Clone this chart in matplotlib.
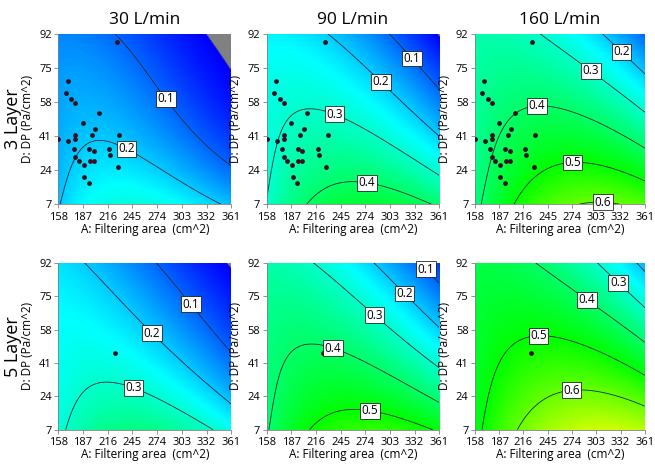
import numpy as np
import matplotlib
matplotlib.use('Agg')
import matplotlib.pyplot as plt
from matplotlib.colors import LinearSegmentedColormap

plt.rcParams['font.family'] = ['Open Sans', 'DejaVu Sans']

flows = ['30 L/min', '90 L/min', '160 L/min']
layers = ['3 Layer', '5 Layer']
x_ticks = [158, 187, 216, 245, 274, 303, 332, 361]
y_ticks = [7, 24, 41, 58, 75, 92]

# design points (filtering area, DP)
pts3_area = [226.6, 169.0, 166.6, 173.3, 178.0, 205.4, 186.6, 201.5, 158.0, 178.0,
             178.0, 169.8, 197.2, 229.7, 176.0, 194.5, 199.6, 218.0, 219.2, 178.0,
             181.9, 195.2, 199.6, 187.8, 228.2, 188.6, 193.7]
pts3_dp = [87.8, 68.6, 62.5, 59.7, 57.6, 52.6, 47.7, 44.7, 39.7, 41.5,
           39.7, 38.5, 41.5, 41.5, 34.5, 34.5, 33.5, 34.5, 31.4, 30.4,
           28.4, 28.4, 28.4, 26.4, 25.6, 20.6, 17.5]
pts5_area = [224.5]
pts5_dp = [46.3]

# response readings (area, DP, response) for each panel: contour lines and corner shades
l3_30 = [(160.7, 7, .2), (171.7, 26.1, .2), (187.4, 34.4, .2), (207, 38, .2), (222.7, 37.7, .2),
         (246.2, 33.6, .2), (277.6, 24.4, .2), (308.9, 16.1, .2), (350.1, 7, .2),
         (226.6, 92, .1), (254, 75.9, .1), (281.5, 61, .1), (308.9, 47.7, .1), (340.3, 32.7, .1),
         (359.9, 26.1, .1), (330.5, 92, 0), (344.2, 84.2, 0), (359.9, 75.9, 0),
         (158, 92, .13), (158, 7, .195)]
l3_90 = [(210.9, 7, .4), (220.7, 12.8, .4), (240.3, 17, .4), (263.8, 18.6, .4), (287.4, 17.8, .4),
         (314.8, 13.6, .4), (342.2, 8.7, .4), (354, 7, .4),
         (158, 11.2, .3), (165.8, 31.1, .3), (177.6, 42.7, .3), (193.3, 51, .3), (216.8, 53.8, .3),
         (236.4, 53.5, .3), (267.8, 48.5, .3), (299.1, 39.4, .3), (330.5, 28.6, .3), (359.9, 21.1, .3),
         (236.4, 92, .2), (259.9, 80.9, .2), (287.4, 68.4, .2), (314.8, 57.6, .2), (338.3, 48.5, .2),
         (359.9, 41, .2), (299.1, 92, .1), (322.6, 82.5, .1), (346.2, 72.6, .1), (359.9, 66.8, .1),
         (158, 92, .24), (158, 7, .305)]
l3_160 = [(295, 7.5, .6), (311, 8.2, .6), (330, 7.5, .6),
          (209.7, 7, .5), (223.7, 19.5, .5), (243.6, 26.1, .5), (271.4, 28.6, .5), (295.3, 27.8, .5),
          (327.2, 23.6, .5), (359, 18.6, .5),
          (168, 7, .4), (175.9, 22.8, .4), (187.9, 39.4, .4), (203.8, 51, .4), (223.7, 56, .4),
          (243.6, 56.8, .4), (271.4, 54.3, .4), (303.3, 48.5, .4), (335.1, 41, .4), (361, 35.2, .4),
          (239.6, 92, .3), (263.5, 84.2, .3), (291.3, 74.2, .3), (319.2, 65.1, .3), (343.1, 57.6, .3),
          (361, 52.7, .3), (307.3, 92, .2), (331.1, 84.2, .2), (351, 76.7, .2), (361, 73.4, .2),
          (158, 92, .33), (158, 7, .39)]
l5_30 = [(169.8, 7, .3), (179.6, 19, .3), (195.2, 27.4, .3), (214.8, 30.7, .3), (230.5, 30.4, .3),
         (254, 27.4, .3), (285.4, 20.7, .3), (316.8, 12.3, .3), (340.3, 7, .3),
         (195.2, 92, .2), (218.8, 79.1, .2), (246.2, 65.8, .2), (269.7, 57.4, .2), (297.2, 45.7, .2),
         (324.6, 34, .2), (359.9, 20.7, .2),
         (269.7, 92, .1), (293.2, 79.1, .1), (316.8, 69.1, .1), (340.3, 55.8, .1), (359.9, 45.7, .1),
         (361, 92, 0), (158, 92, .22), (158, 7, .29)]
l5_90 = [(215.1, 7, .5), (228.9, 13.2, .5), (248.6, 16.5, .5), (268.3, 18.2, .5), (292, 17.4, .5),
         (319.5, 13.2, .5), (347.1, 8.2, .5), (355, 7, .5),
         (160, 7, .4), (167.9, 25.7, .4), (181.6, 42.4, .4), (197.4, 49.1, .4), (217.1, 50.8, .4),
         (232.9, 49.9, .4), (260.4, 44.9, .4), (292, 37.4, .4), (323.5, 29, .4), (361, 19, .4),
         (221, 92, .3), (244.7, 81.6, .3), (272.3, 69.1, .3), (299.8, 59.1, .3), (327.4, 49.1, .3),
         (361, 39.1, .3), (280.1, 92, .2), (307.7, 81.6, .2), (331.4, 70.8, .2), (361, 60.8, .2),
         (339.2, 92, .1), (355, 84.2, .1), (361, 81.6, .1), (158, 92, .33), (158, 7, .395)]
l5_160 = [(211.7, 7, .6), (223.7, 15.7, .6), (243.6, 24, .6), (271.4, 28.2, .6), (295.3, 28.2, .6),
          (327.2, 24, .6), (361, 19, .6),
          (169.9, 7, .5), (177.9, 25.7, .5), (191.8, 42.4, .5), (211.7, 52.4, .5), (235.6, 56.1, .5),
          (263.5, 54.9, .5), (295.3, 49.1, .5), (327.2, 42.4, .5), (361, 34.9, .5),
          (235.6, 92, .4), (263.5, 82.5, .4), (291.3, 72.5, .4), (319.2, 63.3, .4), (343.1, 55.8, .4),
          (361, 50.8, .4), (299.3, 92, .3), (323.2, 84.2, .3), (347.1, 75.8, .3), (361, 70, .3),
          (351, 92, .2), (361, 88.3, .2), (158, 92, .43), (158, 7, .49)]

readings = [[l3_30, l3_90, l3_160], [l5_30, l5_90, l5_160]]
levels = [[[0.1, 0.2], [0.1, 0.2, 0.3, 0.4], [0.2, 0.3, 0.4, 0.5, 0.6]],
          [[0.1, 0.2, 0.3], [0.1, 0.2, 0.3, 0.4, 0.5], [0.2, 0.3, 0.4, 0.5, 0.6]]]
# contour labels: level and rough place
labels = [[[(0.1, 286.6, 60.5), (0.2, 242.3, 38)],
           [(0.1, 328.5, 79.5), (0.2, 293.2, 68.4), (0.3, 240.3, 54.3), (0.4, 277.6, 22)],
           [(0.2, 334.3, 83.4), (0.3, 299.3, 75.1), (0.4, 231.6, 60.5), (0.5, 274.6, 32.4),
            (0.6, 311.2, 9)]],
          [[(0.1, 310.9, 70), (0.2, 270.9, 57.3), (0.3, 248.9, 31.4)],
           [(0.1, 344, 88.3), (0.2, 319.5, 76.1), (0.3, 288, 66.6), (0.4, 238.8, 52.4),
            (0.5, 281.3, 20.7)],
           [(0.3, 330.3, 82.5), (0.4, 295.3, 75), (0.5, 233.6, 58.8), (0.6, 272.2, 31.4)]]]


def terms(a, d):
    a = (np.asarray(a) - 259.5) / 101.5
    d = (np.asarray(d) - 49.5) / 42.5
    return [np.ones_like(a), a, d, a * d, a * a, d * d,
            a ** 3, a * a * d, a * d * d, d ** 3]


def fit_surface(pts):  # cubic response surface through the read points
    p = np.array(pts, dtype=float)
    X = np.column_stack(terms(p[:, 0], p[:, 1]))
    coef, *_ = np.linalg.lstsq(X, p[:, 2], rcond=None)
    return coef


def snap(cs, lev_list, lev, x, y):  # nearest point of the drawn contour
    segs = [s for s in cs.allsegs[lev_list.index(lev)] if len(s)]
    if not segs:
        return x, y
    v = np.vstack(segs)
    dist = ((v[:, 0] - x) / 203) ** 2 + ((v[:, 1] - y) / 85) ** 2
    return v[np.argmin(dist)]


cmap = LinearSegmentedColormap.from_list('de', ['#0000ff', '#00ffff', '#00ff00', '#ffff00', '#ff0000'])
cmap.set_under('#808080')

fig = plt.figure(figsize=(6.55, 4.66), dpi=100)
lefts = [0.089, 0.407, 0.725]
widths = [0.264, 0.2635, 0.2595]
bottoms = [0.562, 0.078]
heights = [0.365, 0.358]

ag = np.linspace(158, 361, 300)
dg = np.linspace(7, 92, 300)
AA, DD = np.meshgrid(ag, dg)

for r in range(2):
    for c in range(3):
        ax = fig.add_axes([lefts[c], bottoms[r], widths[c], heights[r]])
        coef = fit_surface(readings[r][c])
        Z = sum(k * t for k, t in zip(coef, terms(AA, DD)))
        ax.imshow(Z, extent=[158, 361, 7, 92], origin='lower', aspect='auto',
                  cmap=cmap, vmin=0.0, vmax=1.0, interpolation='bilinear')
        cs = ax.contour(AA, DD, Z, levels=levels[r][c], colors='#1c2838', linewidths=0.6)
        for lev, lx, ly in labels[r][c]:
            px, py = snap(cs, levels[r][c], lev, lx, ly)
            ax.text(px, py, '%.1f' % lev, fontsize=8.5, ha='center', va='center', zorder=5,
                    bbox=dict(facecolor='white', edgecolor='black', pad=1.0, linewidth=0.5))
        if r == 0:
            ax.scatter(pts3_area, pts3_dp, s=6, color='#3a1020', zorder=4)
            ax.set_title(flows[c], fontsize=12.5, pad=7)
        else:
            ax.scatter(pts5_area, pts5_dp, s=6, color='#3a1020', zorder=4)
        ax.set_xlim(158, 361)
        ax.set_ylim(7, 92)
        ax.set_xticks(x_ticks)
        ax.set_yticks(y_ticks)
        ax.tick_params(labelsize=8, length=3, width=0.6, color='#808080', pad=1.5)
        ax.tick_params(axis='x', pad=2.5)
        for s in ['top', 'right']:
            ax.spines[s].set_visible(False)
        for s in ['left', 'bottom']:
            ax.spines[s].set_color('#808080')
            ax.spines[s].set_linewidth(0.6)
        ax.set_xlabel('A: Filtering area  (cm^2)', fontsize=8.5, labelpad=0)
        ax.set_ylabel('D: DP (Pa/cm^2)', fontsize=8.5)
        ax.yaxis.set_label_coords(-0.14, 0.5)

for r in range(2):
    fig.text(13 / 655, bottoms[r] + heights[r] / 2, layers[r], rotation=90,
             fontsize=13, ha='center', va='center')

fig.savefig('out.png', dpi=100)
